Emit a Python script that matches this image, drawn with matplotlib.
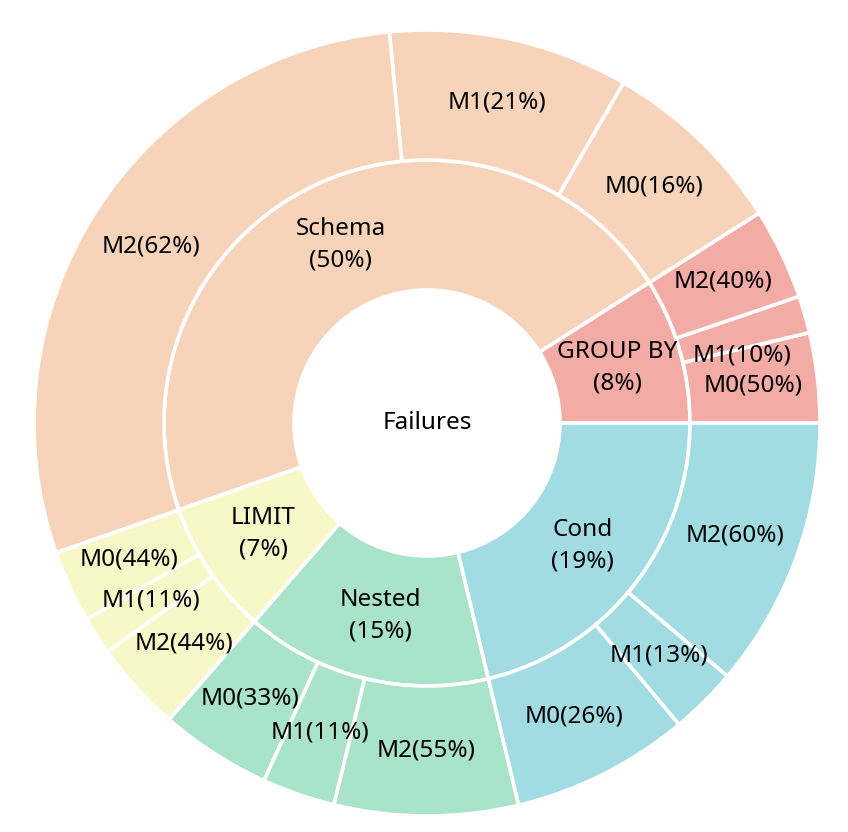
import matplotlib.pyplot as plt
import numpy as np

# inner ring: categories, arc sizes (degrees), labels
groups = ['GROUP BY', 'Schema', 'LIMIT', 'Nested', 'Cond']
group_pct = ['8%', '50%', '7%', '15%', '19%']
group_size = [32.3, 167.0, 29.7, 54.5, 76.5]
group_color = ['#F2ABA5', '#F7D4B9', '#F8F7C7', '#A9E3CA', '#A0DCE1']

# outer ring: models inside each category (same order as groups)
models = ['M0', 'M1', 'M2']
model_size = [
    [13.3, 5.5, 13.5],     # GROUP BY
    [27.7, 35.5, 103.8],   # Schema
    [10.7, 5.6, 13.4],     # LIMIT
    [16.5, 10.8, 27.2],    # Nested
    [26.4, 10.0, 40.1],    # Cond
]
model_pct = [
    ['50%', '10%', '40%'],
    ['16%', '21%', '62%'],
    ['44%', '11%', '44%'],
    ['33%', '11%', '55%'],
    ['26%', '13%', '60%'],
]

plt.rcParams['font.family'] = ['Noto Sans', 'DejaVu Sans']
FS = 17.5

fig = plt.figure(figsize=(8.48, 8.32), dpi=100)
ax = fig.add_axes([(427 - 400) / 848, (409 - 400) / 832, 800 / 848, 800 / 832])

r_hole, r_mid, r_out = 133 / 393, 263 / 393, 1.0
edge = dict(edgecolor='white', linewidth=2.6)

inner, _ = ax.pie(group_size, radius=r_mid, startangle=0, counterclock=True,
                  colors=group_color,
                  wedgeprops=dict(width=r_mid - r_hole, **edge))

outer_sizes = [v for row in model_size for v in row]
outer_colors = [c for c, row in zip(group_color, model_size) for _ in row]
outer, _ = ax.pie(outer_sizes, radius=r_out, startangle=0, counterclock=True,
                  colors=outer_colors,
                  wedgeprops=dict(width=r_out - r_mid, **edge))

def put(w, r, txt, dy=0.0):
    a = np.deg2rad((w.theta1 + w.theta2) / 2)
    ax.text(r * np.cos(a), r * np.sin(a) + dy, txt, ha='center', va='center',
            fontsize=FS, linespacing=1.42)

for w, g, p in zip(inner, groups, group_pct):
    put(w, (r_hole + r_mid) / 2, f'{g}\n({p})')

labels = [f'{m}({p})' for row in model_pct for m, p in zip(models, row)]
for i, (w, t) in enumerate(zip(outer, labels)):
    # the tiny GROUP BY M1 label sits a bit lower in the original
    put(w, (r_mid + r_out) / 2, t, dy=-0.06 if i == 1 else 0.0)

ax.text(0, 0, 'Failures', ha='center', va='center', fontsize=FS)

L = 400 / 393
ax.set_xlim(-L, L)
ax.set_ylim(-L, L)
ax.set_aspect('equal')
ax.axis('off')
fig.savefig('out.png', dpi=100)
